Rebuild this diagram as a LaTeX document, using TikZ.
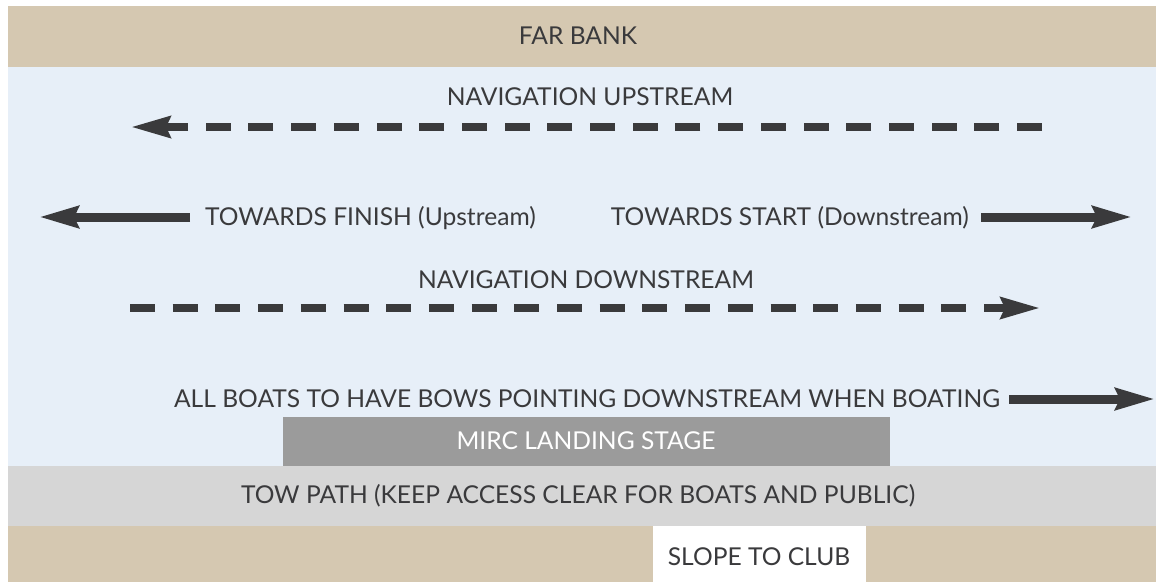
\documentclass[tikz,border=0pt]{standalone}
\usepackage{fontspec}
\setmainfont{Lato}
\usetikzlibrary{arrows.meta}
\definecolor{bankcol}{HTML}{D5C8B1}
\definecolor{rivercol}{HTML}{E7EFF8}
\definecolor{stagecol}{HTML}{9B9B9B}
\definecolor{pathcol}{HTML}{D6D6D6}
\definecolor{inkcol}{HTML}{3A3A3C}

\begin{document}
\begin{tikzpicture}[x=1pt,y=-1pt,
    lbl/.style={text=inkcol, font=\fontsize{24.6}{24.6}\selectfont, inner sep=0pt, anchor=base},
    navline/.style={draw=inkcol, line width=8pt, dash pattern=on 25pt off 17.7pt,
      -{Stealth[length=39pt,width=21pt,inset=4pt]}},
    dirline/.style={draw=inkcol, line width=9pt,
      -{Stealth[length=39pt,width=21pt,inset=4pt]}}]
    \useasboundingbox[fill=white] (0,0) rectangle (1156,582);
    % bands of the river
    \fill[bankcol] (8,6) rectangle (1156,67);
    \fill[rivercol] (8,67) rectangle (1156,466);
    \fill[stagecol] (283,417) rectangle (890,466);
    \fill[pathcol] (8,466) rectangle (1156,526);
    \fill[bankcol] (8,526) rectangle (1156,582);
    \fill[white] (653,526) rectangle (866,582);
    % labels
    \node[lbl] (farbank) at (578,44.5) {FAR BANK};
    \node[lbl] (navup) at (590,105.5) {NAVIGATION UPSTREAM};
    \node[lbl, anchor=base west] (finish) at (205,225.5) {TOWARDS FINISH (Upstream)};
    \node[lbl, anchor=base east] (start) at (969,225.5) {TOWARDS START (Downstream)};
    \node[lbl] (navdown) at (586,288.5) {NAVIGATION DOWNSTREAM};
    \node[lbl, anchor=base east] (boats) at (1000,407) {ALL BOATS TO HAVE BOWS POINTING DOWNSTREAM WHEN BOATING};
    \node[lbl, text=white] (stage) at (586,449.5) {MIRC LANDING STAGE};
    \node[lbl] (towpath) at (578,503.5) {TOW PATH (KEEP ACCESS CLEAR FOR BOATS AND PUBLIC)};
    \node[lbl] (slope) at (759,565.5) {SLOPE TO CLUB};
    % arrows
    \coordinate (upTail) at (1042,127);
    \coordinate (upTip) at (131,127);
    \draw[navline] (upTail) -- (upTip);
    \coordinate (downTail) at (130,308);
    \coordinate (downTip) at (1040,308);
    \draw[navline] (downTail) -- (downTip);
    \coordinate (finishTail) at (190,217);
    \coordinate (finishTip) at (39,217);
    \draw[dirline] (finishTail) -- (finishTip);
    \coordinate (startTail) at (981,217);
    \coordinate (startTip) at (1132,217);
    \draw[dirline] (startTail) -- (startTip);
    \coordinate (boatsTail) at (1009,399);
    \coordinate (boatsTip) at (1155,399);
    \draw[dirline] (boatsTail) -- (boatsTip);
\end{tikzpicture}
\end{document}
